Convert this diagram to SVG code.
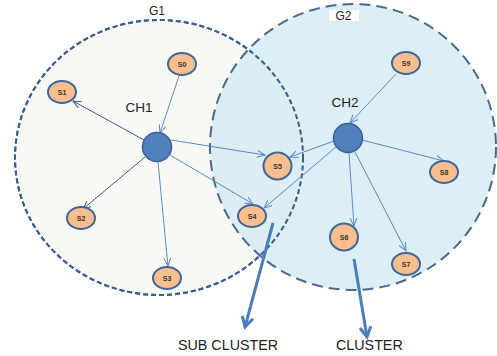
<svg xmlns="http://www.w3.org/2000/svg" xmlns:xlink="http://www.w3.org/1999/xlink" width="497" height="356" viewBox="0 0 497 356">
<style>
.lbl{font-family:"Liberation Sans",Arial,sans-serif;fill:#222}
.s{fill:#fbbe8e;stroke:#3f659a;stroke-width:2}
.st{font-family:"Liberation Sans",Arial,sans-serif;font-size:7px;font-weight:bold;fill:#333;text-anchor:middle}
.ch{fill:#4f81bd;stroke:#3a6090;stroke-width:1.5}
.e{stroke:#5b8ac6;stroke-width:1;fill:none;marker-end:url(#ah)}
.ed{stroke:#3d5a84;stroke-width:1;fill:none;marker-end:url(#ahd)}
.big{stroke:#4a7ebb;stroke-width:3;fill:none;marker-end:url(#bh)}
</style>
<defs>
<ellipse id="g1shape" cx="159" cy="157.5" rx="144" ry="137.5"/>
<marker id="ah" markerUnits="userSpaceOnUse" markerWidth="10" markerHeight="10" refX="8" refY="4" orient="auto" viewBox="0 0 10 8"><path d="M0,0.5 L8,4 L0,7.5" fill="none" stroke="#5b8ac6" stroke-width="1"/></marker>
<marker id="ahd" markerUnits="userSpaceOnUse" markerWidth="10" markerHeight="10" refX="8" refY="4" orient="auto" viewBox="0 0 10 8"><path d="M0,0.5 L8,4 L0,7.5" fill="none" stroke="#3d5a84" stroke-width="1"/></marker>
<marker id="bh" markerUnits="userSpaceOnUse" markerWidth="14" markerHeight="14" refX="11" refY="6" orient="auto" viewBox="0 0 14 12"><path d="M1,0.5 L11,6 L1,11.5" fill="none" stroke="#4a7ebb" stroke-width="3" stroke-linejoin="miter"/></marker>
</defs>
<rect width="497" height="356" fill="#ffffff"/>
<g id="G1">
<use xlink:href="#g1shape" href="#g1shape" fill="#f8f9f5" stroke="#3a5e92" stroke-width="2" stroke-dasharray="5 3"/>
<text class="lbl" x="157" y="15" font-size="12" text-anchor="middle">G1</text>
</g>
<g id="G2">
<circle cx="353" cy="147" r="143" fill="#d6ecf4" fill-opacity="0.82" stroke="#4a6890" stroke-width="2" stroke-dasharray="11 6"/>
<rect x="329" y="10" width="30" height="11" fill="#ffffff"/>
<text class="lbl" x="343.5" y="20" font-size="12" text-anchor="middle">G2</text>
</g>
<g id="G1-border">
<use xlink:href="#g1shape" href="#g1shape" fill="none" stroke="#3a5e92" stroke-width="2" stroke-dasharray="5 3"/>
</g>
<g id="connectors">
<line class="e" x1="179" y1="76" x2="160" y2="133"/>
<line class="ed" x1="144" y1="140" x2="73" y2="101"/>
<line class="ed" x1="145" y1="157" x2="83" y2="209"/>
<line class="e" x1="158" y1="162" x2="168" y2="266"/>
<line class="e" x1="171" y1="140" x2="265" y2="155"/>
<line class="e" x1="170" y1="155" x2="253" y2="204"/>
<line class="e" x1="396" y1="74" x2="350" y2="123"/>
<line class="e" x1="334" y1="141" x2="290" y2="157"/>
<line class="e" x1="336" y1="147" x2="264" y2="208"/>
<line class="e" x1="362" y1="140" x2="444" y2="161"/>
<line class="e" x1="349" y1="153" x2="354" y2="226"/>
<line class="e" x1="355" y1="152" x2="406" y2="251"/>
<line class="big" x1="273" y1="223" x2="245" y2="327"/>
<line class="big" x1="354" y1="259" x2="367" y2="337"/>
</g>
<g id="CH1"><circle class="ch" cx="157" cy="147" r="14.5"/><text class="lbl" x="139" y="112" font-size="13.5" text-anchor="middle">CH1</text></g>
<g id="CH2"><circle class="ch" cx="348" cy="138" r="14.5"/><text class="lbl" x="345" y="107" font-size="13.5" text-anchor="middle">CH2</text></g>
<g id="S0"><ellipse class="s" cx="182" cy="64" rx="14" ry="11"/><text class="st" x="182" y="66.5">S0</text></g>
<g id="S1"><ellipse class="s" cx="62" cy="92" rx="14" ry="11"/><text class="st" x="62" y="94.5">S1</text></g>
<g id="S2"><ellipse class="s" cx="81" cy="218" rx="14" ry="11"/><text class="st" x="81" y="220.5">S2</text></g>
<g id="S3"><ellipse class="s" cx="167" cy="278" rx="14" ry="11"/><text class="st" x="167" y="280.5">S3</text></g>
<g id="S4"><ellipse class="s" cx="252" cy="216" rx="14" ry="11"/><text class="st" x="252" y="218.5">S4</text></g>
<g id="S5"><ellipse class="s" cx="277.5" cy="166" rx="14" ry="13.5"/><text class="st" x="277.5" y="168.5">S5</text></g>
<g id="S6"><ellipse class="s" cx="344" cy="237" rx="14" ry="13.5"/><text class="st" x="344" y="239.5">S6</text></g>
<g id="S7"><ellipse class="s" cx="406" cy="264" rx="14" ry="11"/><text class="st" x="406" y="266.5">S7</text></g>
<g id="S8"><ellipse class="s" cx="444" cy="172" rx="14" ry="11"/><text class="st" x="444" y="174.5">S8</text></g>
<g id="S9"><ellipse class="s" cx="406" cy="63" rx="14" ry="11"/><text class="st" x="406" y="65.5">S9</text></g>
<text class="lbl" x="178" y="350" font-size="14.3">SUB CLUSTER</text>
<text class="lbl" x="336" y="350" font-size="14.3">CLUSTER</text>
</svg>
